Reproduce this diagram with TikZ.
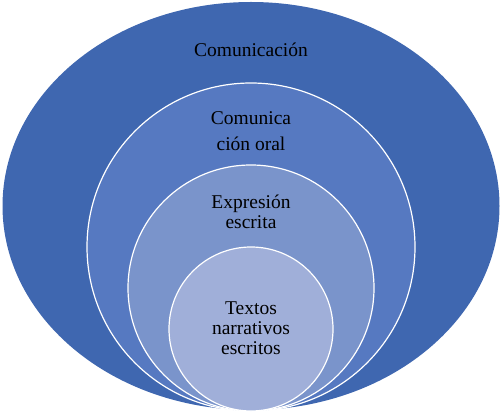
\documentclass[tikz,border=0pt]{standalone}
\usepackage{fontspec}
\setmainfont{Liberation Serif}
\usetikzlibrary{shapes.geometric}
\definecolor{c1}{HTML}{3F67B0}
\definecolor{c2}{HTML}{5679C1}
\definecolor{c3}{HTML}{7A94CB}
\definecolor{c4}{HTML}{A0AFD9}
\tikzset{
  ring/.style={circle, draw=white, line width=1.2pt, inner sep=0pt},
  lbl/.style={align=center, font=\rmfamily\fontsize{19.5}{20}\selectfont, text=black}
}
\begin{document}
\begin{tikzpicture}[x=1pt,y=-1pt]
\useasboundingbox (0,0) rectangle (501,414);
\node[ellipse, fill=c1, inner sep=0pt, minimum width=497pt, minimum height=408pt] (e1) at (251,206) {};
\node[ring, fill=c2, minimum size=328pt] (e2) at (251,247) {};
\node[ring, fill=c3, minimum size=246pt] (e3) at (251,288) {};
\node[ring, fill=c4, minimum size=164pt] (e4) at (251,329) {};
\node[lbl] (t1) at (251,50) {Comunicación};
\node[lbl, font=\rmfamily\fontsize{19.5}{26}\selectfont] (t2) at (251,131) {Comunica\\ción oral};
\node[lbl] (t3) at (251,212) {Expresión\\escrita};
\node[lbl] (t4) at (251,328) {Textos\\narrativos\\escritos};
\end{tikzpicture}
\end{document}
